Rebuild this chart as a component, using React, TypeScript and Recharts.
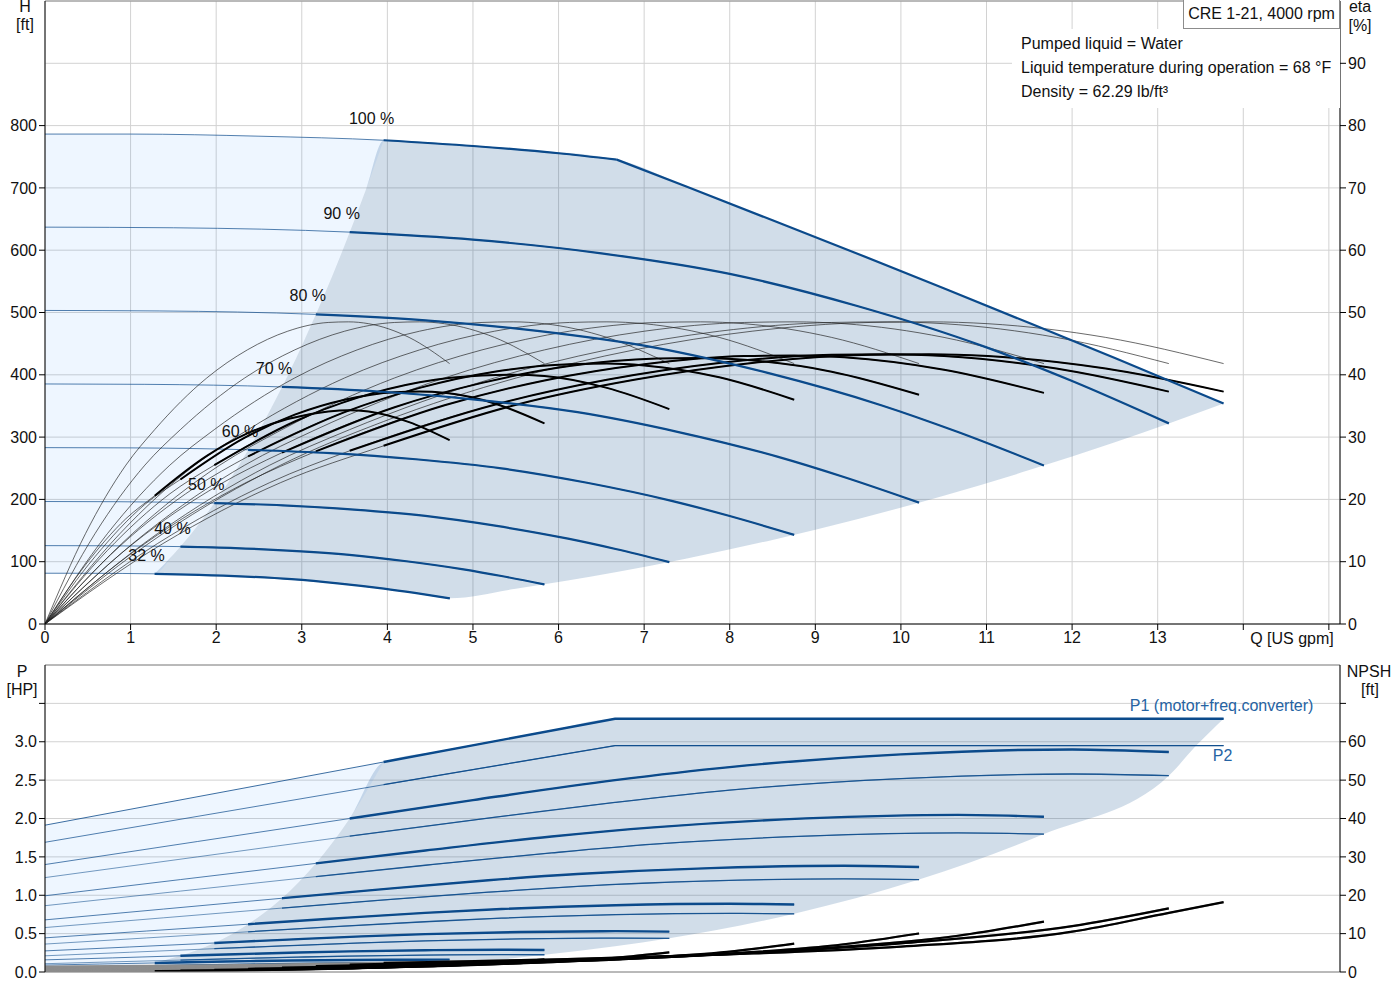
import React from "react";
import {
  Area,
  CartesianGrid,
  ComposedChart,
  Line,
  ReferenceDot,
  ReferenceLine,
  XAxis,
  YAxis,
} from "recharts";

// ---- axes ----
const X_TICKS = [0, 1, 2, 3, 4, 5, 6, 7, 8, 9, 10, 11, 12, 13, 14, 15];
const H_TICKS = [0, 100, 200, 300, 400, 500, 600, 700, 800];
const ETA_TICKS = [0, 10, 20, 30, 40, 50, 60, 70, 80, 90];
const P_TICKS = [0, 0.5, 1, 1.5, 2, 2.5, 3, 3.5];
const NPSH_TICKS = [0, 10, 20, 30, 40, 50, 60, 70];

const SPEEDS = ["32 %", "40 %", "50 %", "60 %", "70 %", "80 %", "90 %"];

// ---- head curves, Q [US gpm] -> H [ft] ----
const HEAD_Q = [
  [0, 0.54, 1.28, 1.8, 2.34, 2.88, 3.42, 3.96, 4.32, 4.73],
  [0, 0.667, 1.582, 2.222, 2.889, 3.556, 4.222, 4.889, 5.333, 5.835],
  [0, 0.833, 1.978, 2.778, 3.611, 4.444, 5.278, 6.111, 6.667, 7.294],
  [0, 1.0, 2.373, 3.333, 4.333, 5.333, 6.333, 7.333, 8.0, 8.753],
  [0, 1.167, 2.769, 3.889, 5.056, 6.222, 7.389, 8.556, 9.333, 10.212],
  [0, 1.333, 3.164, 4.444, 5.778, 7.111, 8.444, 9.778, 10.667, 11.671],
  [0, 1.5, 3.56, 5, 6.5, 8, 9.5, 11, 12, 13.13],
];
const HEAD = [
  [81.5, 81.4, 80.5, 79.0, 76.2, 71.9, 65.3, 56.8, 49.9, 41.2],
  [125.8, 125.6, 124.2, 121.9, 117.5, 111.0, 100.7, 87.7, 77.0, 63.6],
  [196.6, 196.3, 194.1, 190.4, 183.6, 173.5, 157.4, 137.0, 120.4, 99.4],
  [283.1, 282.7, 279.6, 274.2, 264.4, 249.8, 226.7, 197.3, 173.3, 143.1],
  [385.3, 384.7, 380.5, 373.2, 359.9, 340.0, 308.5, 268.6, 235.9, 194.8],
  [503.3, 502.5, 497.0, 487.5, 470.1, 444.0, 403.0, 350.8, 308.1, 254.4],
  [637, 636, 629, 617, 595, 562, 510, 444, 390, 322],
];
const HEAD_100_Q = [0, 1, 2.5, 3.956, 5, 6, 6.68];
const HEAD_100 = [786.4, 786.4, 783, 776.5, 767.3, 755.6, 745.4];
const HEAD_MAX_Q = [6.68, 7.5, 8.5, 9.5, 10.5, 11.5, 12.5, 13.77];
const HEAD_MAX = [745.4, 702, 648, 594, 539, 483, 427, 354];

// ---- efficiency curves (last row = max curve) ----
const ETA_Q = [
  [0, 0.473, 0.945, 1.282, 1.891, 2.364, 2.836, 3.309, 3.545, 3.782, 4.254, 4.727],
  [0, 0.584, 1.167, 1.582, 2.334, 2.918, 3.501, 4.085, 4.376, 4.668, 5.252, 5.835],
  [0, 0.729, 1.459, 1.978, 2.918, 3.647, 4.376, 5.106, 5.471, 5.835, 6.565, 7.294],
  [0, 0.875, 1.751, 2.373, 3.501, 4.377, 5.252, 6.127, 6.565, 7.002, 7.878, 8.753],
  [0, 1.021, 2.042, 2.769, 4.085, 5.106, 6.127, 7.148, 7.659, 8.17, 9.191, 10.212],
  [0, 1.167, 2.334, 3.164, 4.668, 5.836, 7.003, 8.17, 8.753, 9.337, 10.504, 11.671],
  [0, 1.313, 2.626, 3.56, 5.252, 6.565, 7.878, 9.191, 9.848, 10.504, 11.817, 13.13],
  [0, 1.377, 2.754, 3.956, 5.508, 6.885, 8.262, 9.639, 10.328, 11.016, 12.393, 13.77],
];
const ETA_PUMP = [
  [0, 14.5, 25.5, 31.2, 39.5, 44, 47, 48.4, 48.5, 48.2, 46, 41.8],
  [0, 14.5, 25.5, 31.2, 39.5, 44, 47, 48.4, 48.5, 48.2, 46, 41.8],
  [0, 14.5, 25.5, 31.2, 39.5, 44, 47, 48.4, 48.5, 48.2, 46, 41.8],
  [0, 14.5, 25.5, 31.2, 39.5, 44, 47, 48.4, 48.5, 48.2, 46, 41.8],
  [0, 14.5, 25.5, 31.2, 39.5, 44, 47, 48.4, 48.5, 48.2, 46, 41.8],
  [0, 14.5, 25.5, 31.2, 39.5, 44, 47, 48.4, 48.5, 48.2, 46, 41.8],
  [0, 14.5, 25.5, 31.2, 39.5, 44, 47, 48.4, 48.5, 48.2, 46, 41.8],
  [0, 14.5, 25.5, 32.5, 39.5, 44, 47, 48.4, 48.5, 48.2, 46, 41.8],
];
const ETA_TOTAL = [
  [0, 9.5, 16.9, 20.6, 27.0, 30.6, 32.9, 34.1, 34.3, 34.1, 32.4, 29.5],
  [0, 10.8, 19.2, 23.2, 29.9, 33.6, 36.0, 37.2, 37.3, 37.1, 35.4, 32.2],
  [0, 11.8, 20.9, 25.5, 32.5, 36.3, 38.8, 39.9, 40.0, 39.8, 37.9, 34.5],
  [0, 12.5, 21.9, 26.9, 34.0, 37.9, 40.5, 41.7, 41.8, 41.5, 39.6, 36.0],
  [0, 12.8, 22.4, 27.5, 34.8, 38.7, 41.4, 42.6, 42.7, 42.4, 40.5, 36.8],
  [0, 12.9, 22.6, 27.7, 35.1, 39.1, 41.7, 43.0, 43.1, 42.8, 40.8, 37.1],
  [0, 12.9, 22.7, 27.8, 35.2, 39.2, 41.9, 43.2, 43.3, 43.0, 41.0, 37.3],
  [0, 12.9, 22.7, 28.6, 35.2, 39.2, 41.9, 43.2, 43.3, 43.0, 41.0, 37.3],
];

// ---- power + NPSH curves ----
const POW_Q = [
  [0, 0.641, 1.282, 1.8, 2.398, 2.88, 3.6, 4.32, 4.727],
  [0, 0.791, 1.582, 2.222, 2.96, 3.556, 4.444, 5.333, 5.835],
  [0, 0.989, 1.978, 2.778, 3.7, 4.444, 5.556, 6.667, 7.294],
  [0, 1.187, 2.373, 3.333, 4.44, 5.333, 6.667, 8.0, 8.753],
  [0, 1.384, 2.769, 3.889, 5.18, 6.222, 7.778, 9.333, 10.212],
  [0, 1.582, 3.164, 4.444, 5.92, 7.111, 8.889, 10.667, 11.671],
  [0, 1.78, 3.56, 5, 6.66, 8, 10, 12, 13.13],
];
const P1 = [
  [0.09, 0.104, 0.118, 0.13, 0.142, 0.15, 0.157, 0.16, 0.159],
  [0.158, 0.184, 0.211, 0.232, 0.254, 0.269, 0.284, 0.29, 0.287],
  [0.275, 0.326, 0.378, 0.419, 0.464, 0.493, 0.521, 0.532, 0.526],
  [0.445, 0.534, 0.623, 0.694, 0.771, 0.821, 0.87, 0.889, 0.879],
  [0.679, 0.82, 0.961, 1.074, 1.196, 1.276, 1.354, 1.384, 1.368],
  [0.993, 1.204, 1.415, 1.583, 1.766, 1.885, 2.001, 2.047, 2.023],
  [1.4, 1.7, 2.0, 2.24, 2.5, 2.67, 2.835, 2.9, 2.866],
];
const P2 = [
  [0.057, 0.07, 0.083, 0.092, 0.103, 0.111, 0.118, 0.12, 0.119],
  [0.108, 0.132, 0.155, 0.174, 0.194, 0.208, 0.221, 0.227, 0.225],
  [0.211, 0.257, 0.304, 0.34, 0.379, 0.406, 0.432, 0.442, 0.439],
  [0.364, 0.444, 0.524, 0.587, 0.655, 0.702, 0.747, 0.764, 0.758],
  [0.579, 0.706, 0.833, 0.932, 1.04, 1.115, 1.186, 1.214, 1.204],
  [0.864, 1.054, 1.243, 1.391, 1.552, 1.665, 1.77, 1.812, 1.797],
  [1.23, 1.5, 1.77, 1.98, 2.21, 2.37, 2.52, 2.58, 2.558],
];
const NPSH = [
  [0.15, 0.18, 0.25, 0.33, 0.46, 0.61, 0.97, 1.55, 2.15],
  [0.23, 0.28, 0.38, 0.51, 0.71, 0.93, 1.48, 2.36, 3.28],
  [0.36, 0.44, 0.59, 0.79, 1.1, 1.46, 2.31, 3.69, 5.12],
  [0.52, 0.63, 0.85, 1.14, 1.59, 2.1, 3.32, 5.31, 7.38],
  [0.7, 0.85, 1.16, 1.55, 2.16, 2.86, 4.52, 7.23, 10.04],
  [0.92, 1.11, 1.51, 2.03, 2.82, 3.74, 5.9, 9.44, 13.12],
  [1.16, 1.41, 1.91, 2.57, 3.57, 4.73, 7.47, 11.95, 16.6],
];
const P_MAX_Q = [0, 3.956, 6.66, 13.77];
const P1_MAX = [1.913, 2.736, 3.3, 3.3];
const P2_MAX = [1.69, 2.44, 2.95, 2.95];
const NPSH_MAX_Q = [0, 2, 3.956, 6, 8, 10, 12, 13.13, 13.77];
const NPSH_MAX = [1.43, 1.74, 2.38, 3.3, 4.6, 6.6, 10.5, 15.4, 18.2];

// ---- shaded regions (Q, lower, upper) ----
const LIGHT_H_Q = [0, 0.54, 1.0, 1.28, 1.5, 1.75, 2.0, 2.25, 2.5, 2.75, 3.0, 3.25, 3.5, 3.75, 3.956];
const LIGHT_H_LO = [81.5, 81.4, 81.0, 80.5, 111.6, 151.9, 198.4, 251.1, 310, 375.1, 446.4, 523.9, 607.6, 697.5, 776.2];
const LIGHT_H_HI = [786.4, 786.4, 786.4, 786, 785.6, 785, 784.5, 784, 783, 782, 781, 779.6, 778.4, 777.5, 776.5];
const OP_H_Q = [1.28, 1.5, 1.75, 2.0, 2.25, 2.5, 2.75, 3.0, 3.25, 3.5, 3.75, 3.956, 4.3, 4.73, 5.5, 6.68, 7.5, 8.5, 9.5, 10.5, 11.5, 12.5, 13.13, 13.77];
const OP_H_LO = [80.5, 79.9, 79.1, 78.0, 76.7, 74.9, 72.9, 70.4, 67.4, 64.0, 60.1, 56.9, 50.3, 41.2, 56.5, 83.4, 105.1, 135.0, 168.6, 205.9, 247.0, 291.9, 322, 354];
const OP_H_HI = [80.5, 111.6, 151.9, 198.4, 251.1, 310, 375.1, 446.4, 523.9, 607.6, 697.5, 776.2, 773.5, 769.9, 762.3, 745.4, 702, 648, 594, 539, 483, 427, 391, 354];

const LIGHT_P_Q = [0, 0.641, 1.282, 1.582, 1.978, 2.373, 2.769, 3.164, 3.56, 3.956];
const LIGHT_P_LO = [0.057, 0.07, 0.118, 0.211, 0.378, 0.623, 0.961, 1.415, 2.0, 2.736];
const LIGHT_P_HI = [1.913, 2.046, 2.179, 2.242, 2.324, 2.406, 2.488, 2.57, 2.653, 2.736];
const OP_P_Q = [1.282, 1.582, 1.978, 2.373, 2.769, 3.164, 3.56, 3.956, 4.727, 5.835, 6.66, 7.294, 8.753, 10.212, 11.671, 13.13, 13.45, 13.77];
const OP_P_LO = [0.083, 0.088, 0.095, 0.102, 0.109, 0.113, 0.117, 0.119, 0.119, 0.225, 0.334, 0.439, 0.758, 1.204, 1.797, 2.558, 2.95, 3.3];
const OP_P_HI = [0.118, 0.211, 0.378, 0.623, 0.961, 1.415, 2.0, 2.736, 2.895, 3.126, 3.3, 3.3, 3.3, 3.3, 3.3, 3.3, 3.3, 3.3];

// ---- styling ----
const BLUE = "#0b4a8b";
const FONT = "'Liberation Sans', Arial, sans-serif";
const TICK = { fontSize: 16, fill: "#111", fontFamily: FONT };
const GRID = "#d2d2d2";

type Row = { q: number; v: number };
const pts = (q: number[], v: number[]): Row[] => q.map((x, i) => ({ q: x, v: v[i] }));
const band = (q: number[], lo: number[], hi: number[]) =>
  q.map((x, i) => ({ q: x, r: [lo[i], hi[i]] }));

const curve = (
  key: string,
  data: Row[],
  axis: string,
  stroke: string,
  width: number,
  opacity = 1,
  linear = false
) => (
  <Line
    key={key}
    yAxisId={axis}
    data={data}
    dataKey="v"
    type={linear ? "linear" : "monotone"}
    stroke={stroke}
    strokeWidth={width}
    strokeOpacity={opacity}
    dot={false}
    activeDot={false}
    legendType="none"
    isAnimationActive={false}
  />
);

const region = (key: string, data: any[], axis: string, fill: string, opacity: number) => (
  <Area
    key={key}
    yAxisId={axis}
    data={data}
    dataKey="r"
    type="monotone"
    stroke="none"
    fill={fill}
    fillOpacity={opacity}
    dot={false}
    activeDot={false}
    isAnimationActive={false}
  />
);

const textDot = (key: string, axis: string, x: number, y: number, label: string, dx: number, dy: number, fill: string) => (
  <ReferenceDot
    key={key}
    yAxisId={axis}
    x={x}
    y={y}
    r={0}
    shape={(p: any) => (
      <text x={p.cx + dx} y={p.cy + dy} textAnchor="middle" fontSize={16} fontFamily={FONT} fill={fill}>
        {label}
      </text>
    )}
  />
);

const Txt: React.FC<{ x: number; y: number; children: React.ReactNode; align?: string; color?: string }> = ({
  x,
  y,
  children,
  align = "center",
  color = "#111",
}) => (
  <div
    style={{
      position: "absolute",
      left: x,
      top: y,
      transform: align === "center" ? "translateX(-50%)" : undefined,
      fontFamily: FONT,
      fontSize: 16,
      lineHeight: "18px",
      color,
      whiteSpace: "nowrap",
      zIndex: 3,
    }}
  >
    {children}
  </div>
);

function HeadChart() {
  const items = [
    region("lightH", band(LIGHT_H_Q, LIGHT_H_LO, LIGHT_H_HI), "h", "#0078ff", 0.067),
    region("opH", band(OP_H_Q, OP_H_LO, OP_H_HI), "h", BLUE, 0.19),
    // thin full-length curves
    ...HEAD_Q.map((q, i) => curve(`ht${i}`, pts(q, HEAD[i]), "h", BLUE, 1, 0.7)),
    curve("ht100", pts(HEAD_100_Q, HEAD_100), "h", BLUE, 1, 0.7),
    ...ETA_Q.map((q, i) => curve(`ep${i}`, pts(q, ETA_PUMP[i]), "eta", "#222", 0.8, 0.85)),
    ...ETA_Q.map((q, i) => curve(`et${i}`, pts(q, ETA_TOTAL[i]), "eta", "#222", 0.8, 0.85)),
    // thick parts inside the operating range
    ...ETA_Q.map((q, i) =>
      curve(`eT${i}`, pts(q.slice(3), ETA_TOTAL[i].slice(3)), "eta", "#000", 2)
    ),
    ...HEAD_Q.map((q, i) => curve(`hT${i}`, pts(q.slice(2), HEAD[i].slice(2)), "h", BLUE, 2.2)),
    curve("hT100", pts(HEAD_100_Q.slice(3), HEAD_100.slice(3)), "h", BLUE, 2.2),
    curve("hTmax", pts(HEAD_MAX_Q, HEAD_MAX), "h", BLUE, 2.2, 1, true),
    ...SPEEDS.map((s, i) => textDot(`lab${i}`, "h", HEAD_Q[i][2], HEAD[i][2], s, -8, -13, "#111")),
    textDot("lab100", "h", HEAD_100_Q[3], HEAD_100[3], "100 %", -12, -16, "#111"),
  ];
  return (
    <ComposedChart width={1400} height={660} margin={{ top: 1, right: 0, bottom: 0, left: 0 }}>
      <CartesianGrid yAxisId="eta" stroke={GRID} />
      <XAxis
        dataKey="q"
        type="number"
        domain={[0, 15.13]}
        ticks={X_TICKS}
        interval={0}
        allowDataOverflow
        height={36}
        stroke="#000"
        tick={TICK}
        tickFormatter={(v: number) => (v <= 13 ? String(v) : "")}
      />
      <YAxis yAxisId="h" domain={[0, 1000]} ticks={H_TICKS} interval={0} width={45} stroke="#000" tick={TICK} allowDataOverflow />
      <YAxis
        yAxisId="eta"
        orientation="right"
        domain={[0, 100]}
        ticks={ETA_TICKS}
        interval={0}
        width={60}
        stroke="#000"
        tick={TICK}
        allowDataOverflow
      />
      <ReferenceLine yAxisId="h" y={1000} stroke="#8a8a8a" />
      {items}
    </ComposedChart>
  );
}

function PowerChart() {
  const items = [
    region("lightP", band(LIGHT_P_Q, LIGHT_P_LO, LIGHT_P_HI), "p", "#0078ff", 0.067),
    region("opP", band(OP_P_Q, OP_P_LO, OP_P_HI), "p", BLUE, 0.19),
    ...POW_Q.map((q, i) => curve(`p2t${i}`, pts(q, P2[i]), "p", BLUE, 1, 0.55)),
    ...POW_Q.map((q, i) => curve(`p1t${i}`, pts(q, P1[i]), "p", BLUE, 1, 0.7)),
    curve("p2tm", pts(P_MAX_Q, P2_MAX), "p", BLUE, 1, 0.7, true),
    curve("p1tm", pts(P_MAX_Q, P1_MAX), "p", BLUE, 1, 0.8, true),
    ...POW_Q.map((q, i) => curve(`p2T${i}`, pts(q.slice(2), P2[i].slice(2)), "p", BLUE, 1.3, 0.85)),
    curve("p2Tm", pts(P_MAX_Q.slice(1), P2_MAX.slice(1)), "p", BLUE, 1.3, 0.9, true),
    ...POW_Q.map((q, i) => curve(`p1T${i}`, pts(q.slice(2), P1[i].slice(2)), "p", BLUE, 2.4)),
    curve("p1Tm", pts(P_MAX_Q.slice(1), P1_MAX.slice(1)), "p", BLUE, 2.4, 1, true),
    // NPSH: grey in the light part, black in the operating range
    ...POW_Q.map((q, i) => curve(`npt${i}`, pts(q, NPSH[i]), "npsh", "#8c8c8c", 2)),
    curve("nptm", pts(NPSH_MAX_Q, NPSH_MAX), "npsh", "#8c8c8c", 2),
    ...POW_Q.map((q, i) => curve(`npT${i}`, pts(q.slice(2), NPSH[i].slice(2)), "npsh", "#000", 2.2)),
    curve("npTm", pts(NPSH_MAX_Q.slice(2), NPSH_MAX.slice(2)), "npsh", "#000", 2.2),
    textDot("labP1", "p", P_MAX_Q[3], P1_MAX[3], "P1 (motor+freq.converter)", -2, -8, "#2563a3"),
    textDot("labP2", "p", P_MAX_Q[3], P2_MAX[3], "P2", -1, 15, "#2563a3"),
  ];
  return (
    <ComposedChart width={1400} height={330} margin={{ top: 5, right: 0, bottom: 0, left: 0 }}>
      <CartesianGrid yAxisId="p" stroke={GRID} />
      <XAxis
        dataKey="q"
        type="number"
        domain={[0, 15.13]}
        ticks={X_TICKS}
        interval={0}
        allowDataOverflow
        height={18}
        stroke="#8a8a8a"
        tick={false}
        tickLine={false}
      />
      <YAxis
        yAxisId="p"
        domain={[0, 4]}
        ticks={P_TICKS}
        interval={0}
        width={45}
        stroke="#000"
        tick={TICK}
        allowDataOverflow
        tickFormatter={(v: number) => (v <= 3 ? v.toFixed(1) : "")}
      />
      <YAxis
        yAxisId="npsh"
        orientation="right"
        domain={[0, 80]}
        ticks={NPSH_TICKS}
        interval={0}
        width={60}
        stroke="#000"
        tick={TICK}
        allowDataOverflow
        tickFormatter={(v: number) => (v <= 60 ? String(v) : "")}
      />
      <ReferenceLine yAxisId="p" y={4} stroke="#8a8a8a" />
      {items}
    </ComposedChart>
  );
}

export default function App() {
  return (
    <div style={{ position: "absolute", left: 0, top: 0, width: 1400, height: 1000, background: "#fff" }}>
      <div style={{ position: "absolute", left: 0, top: 0 }}>
        <HeadChart />
      </div>
      <div style={{ position: "absolute", left: 0, top: 660 }}>
        <PowerChart />
      </div>

      {/* info boxes */}
      <div
        style={{
          position: "absolute",
          left: 1012,
          top: 29,
          width: 328,
          height: 79,
          background: "#fff",
          zIndex: 2,
        }}
      />
      <div
        style={{
          position: "absolute",
          left: 1183,
          top: -1,
          width: 155,
          height: 28,
          background: "#fff",
          border: "1px solid #8c8c8c",
          fontFamily: FONT,
          fontSize: 16,
          lineHeight: "28px",
          textAlign: "center",
          color: "#111",
          zIndex: 2,
        }}
      >
        CRE 1-21, 4000 rpm
      </div>
      <Txt x={1021} y={35} align="left">Pumped liquid = Water</Txt>
      <Txt x={1021} y={59} align="left">Liquid temperature during operation = 68 °F</Txt>
      <Txt x={1021} y={83} align="left">Density = 62.29 lb/ft³</Txt>

      {/* axis titles */}
      <Txt x={25} y={-2}>H</Txt>
      <Txt x={25} y={16}>[ft]</Txt>
      <Txt x={1360} y={-2}>eta</Txt>
      <Txt x={1360} y={17}>[%]</Txt>
      <Txt x={1292} y={630}>Q [US gpm]</Txt>
      <Txt x={22} y={663}>P</Txt>
      <Txt x={22} y={681}>[HP]</Txt>
      <Txt x={1369} y={663}>NPSH</Txt>
      <Txt x={1370} y={681}>[ft]</Txt>
    </div>
  );
}
